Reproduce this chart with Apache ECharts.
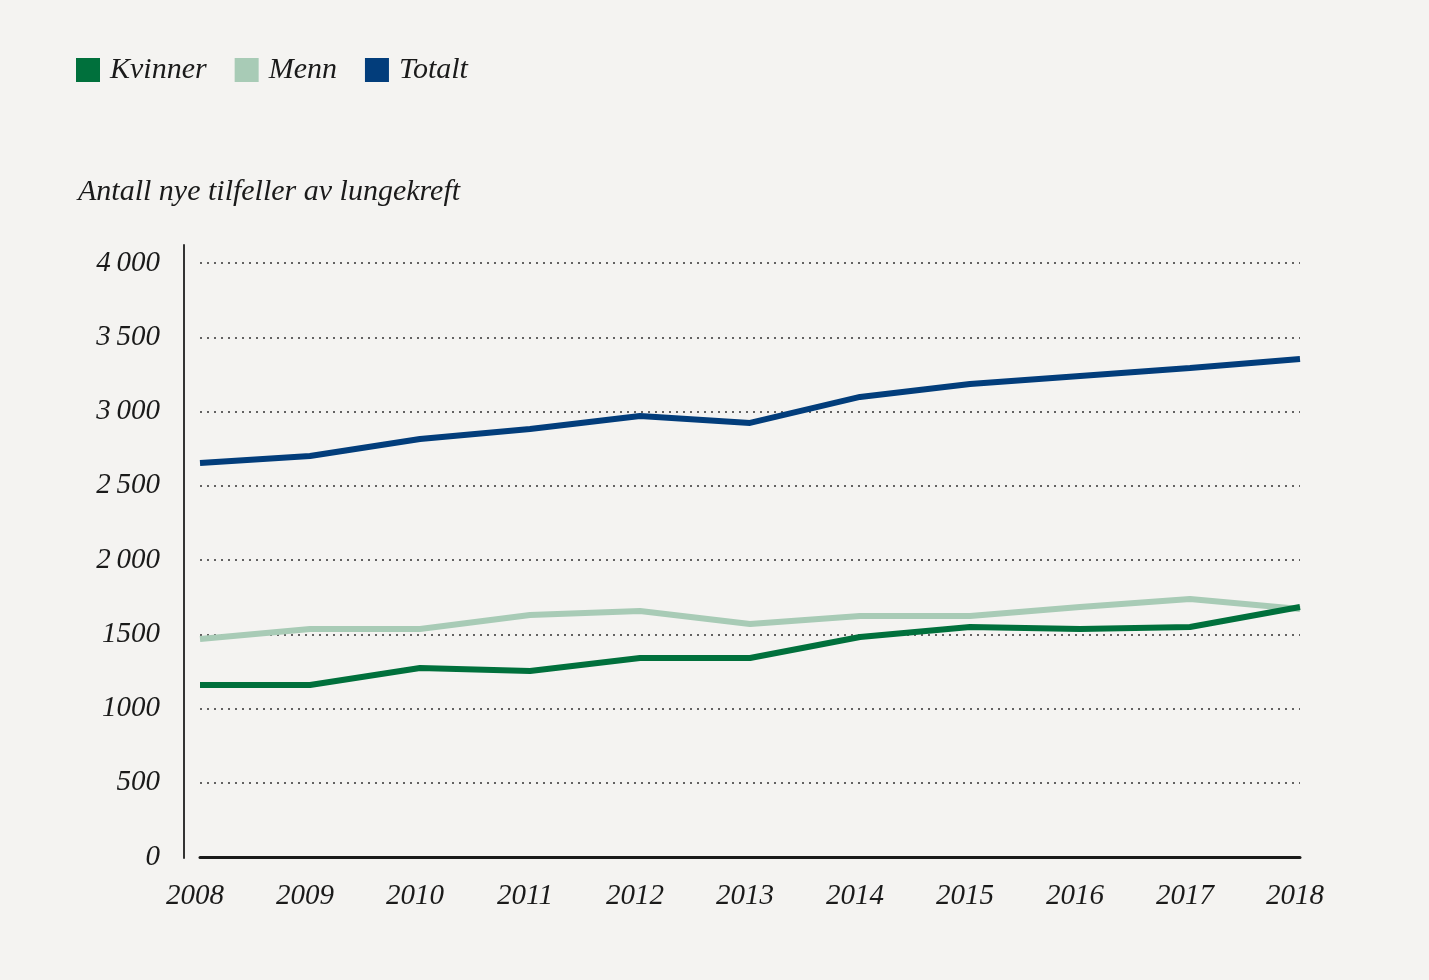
<!DOCTYPE html>
<html><head><meta charset="utf-8">
<script src="https://cdn.jsdelivr.net/npm/echarts@6/dist/echarts.min.js"></script>
<style>html,body{margin:0;padding:0;background:#f4f3f1}#c{width:1429px;height:980px}</style>
</head><body><div id="c"></div>
<script>
const years = ['2008','2009','2010','2011','2012','2013','2014','2015','2016','2017','2018'];
const kvinner = [1158,1158,1273,1253,1340,1340,1481,1549,1535,1549,1684];
const menn = [1468,1535,1535,1630,1657,1569,1623,1623,1684,1737,1670];
const totalt = [2653,2700,2815,2882,2970,2923,3098,3185,3239,3293,3354];
const yTickLabels = {0:'0',500:'500',1000:'1000',1500:'1500',2000:'2\u2009000',2500:'2\u2009500',3000:'3\u2009000',3500:'3\u2009500',4000:'4\u2009000'};
const FONT = '"Liberation Serif", serif';
const chart = echarts.init(document.getElementById('c'));
chart.setOption({
  backgroundColor:'#f4f3f1',
  animation:false,
  legend:{
    left:71, top:50, itemWidth:24, itemHeight:24, itemGap:28, icon:'rect',
    textStyle:{fontFamily:FONT, fontStyle:'italic', fontSize:30, color:'#1a1a1a', padding:[0,0,0,5]},
    data:['Kvinner','Menn','Totalt']
  },
  title:{text:'Antall nye tilfeller av lungekreft', left:73, top:172,
    textStyle:{fontFamily:FONT, fontStyle:'italic', fontWeight:'normal', fontSize:30, color:'#1a1a1a'}},
  grid:[{left:200, right:129, top:263, bottom:123},{left:184, right:129, top:245, bottom:122}],
  xAxis:[{type:'category', data:years, boundaryGap:false, gridIndex:0,
    axisLine:{lineStyle:{color:'#1a1a1a', width:3}}, axisTick:{show:false},
    axisLabel:{fontFamily:FONT, fontStyle:'italic', fontSize:29, color:'#1a1a1a', margin:25, padding:[0,10,0,0]}},
    {type:'category', gridIndex:1, show:false, data:years}],
  yAxis:[{type:'value', min:0, max:4000, interval:500, gridIndex:0,
    axisLine:{show:false}, axisTick:{show:false},
    splitLine:{lineStyle:{type:[2,5], color:'#333', width:1.5}},
    axisLabel:{fontFamily:FONT, fontStyle:'italic', fontSize:29, color:'#1a1a1a', margin:40,
      formatter:v=>yTickLabels[v]}},
    {type:'value', gridIndex:1, min:0, max:1, axisLine:{show:true, lineStyle:{color:'#333', width:2}},
      axisTick:{show:false}, axisLabel:{show:false}, splitLine:{show:false}}],
  series:[
    {name:'Kvinner', type:'line', data:kvinner, color:'#00703c', lineStyle:{width:6, color:'#00703c'}, symbol:'none', z:3},
    {name:'Menn', type:'line', data:menn, color:'#a8cbb6', lineStyle:{width:6, color:'#a8cbb6'}, symbol:'none', z:2},
    {name:'Totalt', type:'line', data:totalt, color:'#023d7b', lineStyle:{width:6, color:'#023d7b'}, symbol:'none', z:2}
  ]
});
</script></body></html>
